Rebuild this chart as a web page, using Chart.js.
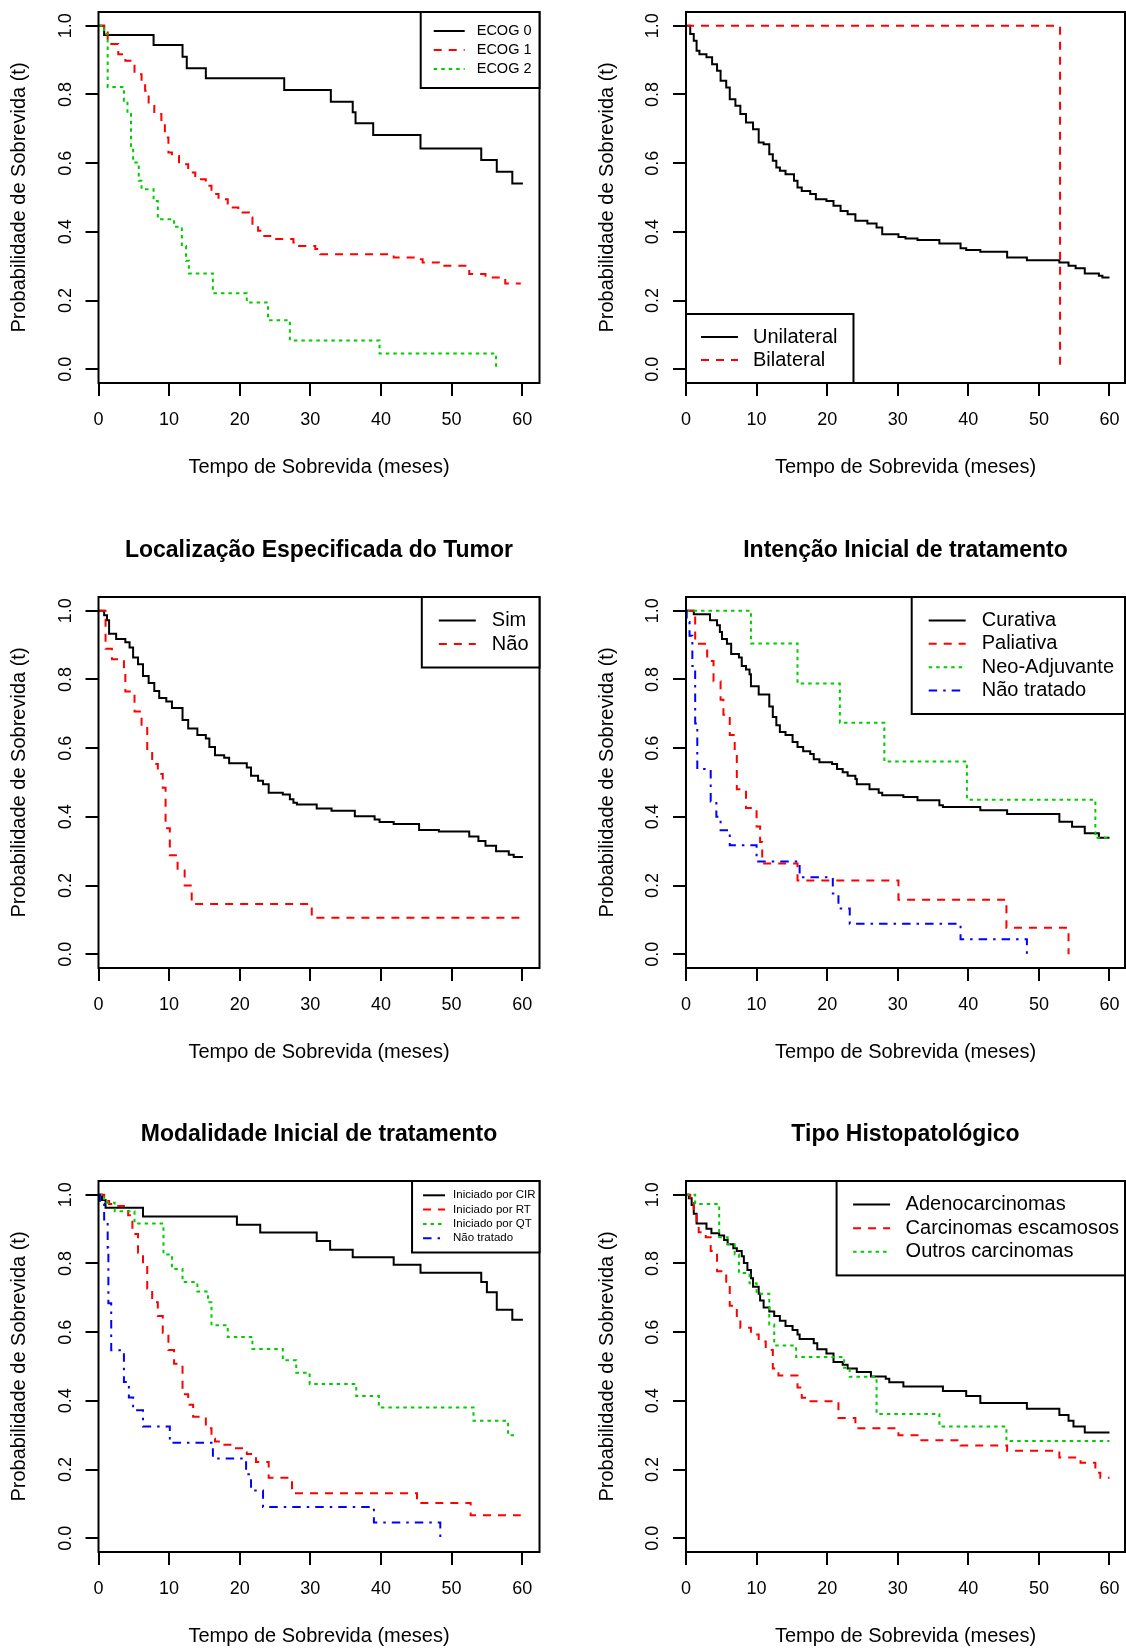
<!DOCTYPE html>
<html lang="pt">
<head>
<meta charset="utf-8">
<title>Curvas de sobrevida</title>
<script src="https://cdn.jsdelivr.net/npm/chart.js@4.4.1/dist/chart.umd.min.js"></script>
<style>
  html, body { margin: 0; padding: 0; background: #fff; }
  body { width: 1126px; height: 1651px; position: relative; overflow: hidden; }
  canvas { position: absolute; }
</style>
</head>
<body>
<canvas id="ecog" width="575" height="531" style="left:0px;top:-48px"></canvas>
<canvas id="lateral" width="575" height="531" style="left:563px;top:-48px"></canvas>
<canvas id="local" width="575" height="531" style="left:0px;top:537px"></canvas>
<canvas id="intencao" width="575" height="531" style="left:563px;top:537px"></canvas>
<canvas id="modalidade" width="575" height="531" style="left:0px;top:1121px"></canvas>
<canvas id="histo" width="575" height="531" style="left:563px;top:1121px"></canvas>
<script>
'use strict';
// axes
var xTicks = [0, 10, 20, 30, 40, 50, 60];
var xTickLabels = ['0', '10', '20', '30', '40', '50', '60'];
var yTicks = [0, 0.2, 0.4, 0.6, 0.8, 1];
var yTickLabels = ['0.0', '0.2', '0.4', '0.6', '0.8', '1.0'];
var xTitle = 'Tempo de Sobrevida (meses)';
var yTitle = 'Probabilidade de Sobrevida (t)';

// ECOG
var ecogLabels = ['ECOG 0', 'ECOG 1', 'ECOG 2'];
var ecog0Time = [0, 0.8, 7.8, 11.9, 12.5, 15.2, 26.3, 32.9, 36.0, 36.4, 38.9, 45.6, 54.2, 56.4, 58.6, 60.1];
var ecog0Surv = [1, 0.973, 0.944, 0.910, 0.876, 0.847, 0.813, 0.779, 0.748, 0.716, 0.682, 0.643, 0.609, 0.575, 0.541, 0.541];
var ecog1Time = [0, 0.8, 1.3, 2.8, 3.8, 5.1, 6.1, 6.6, 7.1, 7.9, 8.9, 9.4, 9.9, 10.4, 11.4, 12.7, 13.7, 15.2, 16.0, 17.0, 18.3, 19.8, 21.3, 21.8, 22.6, 23.3, 24.9, 27.6, 28.4, 30.7, 31.4, 41.8, 44.9, 45.9, 48.2, 52.5, 54.8, 57.6, 59.8];
var ecog1Surv = [1, 0.98, 0.947, 0.917, 0.898, 0.859, 0.840, 0.811, 0.772, 0.743, 0.723, 0.675, 0.631, 0.621, 0.597, 0.573, 0.553, 0.534, 0.510, 0.495, 0.471, 0.456, 0.442, 0.417, 0.403, 0.388, 0.379, 0.369, 0.359, 0.350, 0.335, 0.325, 0.320, 0.311, 0.301, 0.277, 0.267, 0.250, 0.250];
var ecog2Time = [0, 0.8, 1.3, 3.6, 4.1, 4.6, 4.9, 5.7, 6.1, 7.8, 8.4, 10.7, 11.8, 12.4, 12.8, 16.2, 21.0, 24.0, 27.1, 39.8, 56.3];
var ecog2Surv = [1, 0.976, 0.822, 0.782, 0.743, 0.650, 0.602, 0.549, 0.524, 0.490, 0.437, 0.415, 0.359, 0.316, 0.279, 0.221, 0.194, 0.143, 0.084, 0.046, 0];

// lateralidade
var lateralLabels = ['Unilateral', 'Bilateral'];
var uniTime = [0, 0.6, 1.1, 1.5, 1.9, 2.9, 3.7, 4.4, 4.9, 5.7, 6.2, 7.0, 7.7, 8.5, 9.5, 10.3, 11.0, 11.8, 12.3, 12.8, 13.3, 14.1, 15.3, 15.8, 16.4, 17.6, 18.4, 19.9, 20.9, 21.9, 22.9, 24.0, 25.7, 27.0, 27.8, 30.1, 31.1, 32.8, 35.9, 38.9, 39.7, 41.7, 45.5, 48.3, 52.9, 54.2, 55.2, 56.5, 58.5, 59.0, 60];
var uniSurv = [1, 0.976, 0.956, 0.927, 0.917, 0.908, 0.888, 0.869, 0.840, 0.820, 0.786, 0.767, 0.743, 0.718, 0.699, 0.660, 0.655, 0.626, 0.607, 0.587, 0.578, 0.568, 0.549, 0.529, 0.519, 0.510, 0.495, 0.490, 0.476, 0.461, 0.451, 0.432, 0.424, 0.413, 0.393, 0.385, 0.381, 0.376, 0.366, 0.352, 0.347, 0.342, 0.325, 0.317, 0.311, 0.301, 0.294, 0.279, 0.272, 0.267, 0.267];
var biTime = [0, 53.0];
var biSurv = [1, 0];

// localizacao
var localLabels = ['Sim', 'Não'];
var simTime = [0, 0.8, 1.2, 1.5, 2.5, 3.8, 4.4, 4.9, 5.6, 6.3, 7.1, 7.9, 8.6, 9.6, 10.4, 11.9, 12.7, 14.0, 15.2, 15.7, 16.5, 17.8, 18.5, 21.0, 21.6, 22.6, 23.3, 24.1, 26.1, 27.1, 27.6, 28.1, 30.9, 33.0, 36.3, 39.1, 39.8, 41.8, 45.4, 48.2, 52.5, 53.8, 54.8, 56.3, 58.1, 58.8, 60.1];
var simSurv = [1, 0.987, 0.972, 0.933, 0.918, 0.908, 0.893, 0.864, 0.844, 0.810, 0.790, 0.766, 0.746, 0.736, 0.717, 0.682, 0.657, 0.638, 0.628, 0.603, 0.579, 0.572, 0.556, 0.544, 0.520, 0.505, 0.495, 0.470, 0.465, 0.451, 0.441, 0.436, 0.424, 0.418, 0.402, 0.392, 0.385, 0.379, 0.362, 0.357, 0.343, 0.330, 0.316, 0.300, 0.290, 0.283, 0.283];
var naoTime = [0, 1.0, 1.9, 3.6, 3.8, 5.1, 6.1, 6.9, 7.6, 8.4, 9.1, 9.5, 10.1, 11.2, 12.2, 13.2, 30.2, 59.6];
var naoSurv = [1, 0.889, 0.859, 0.829, 0.765, 0.707, 0.663, 0.589, 0.554, 0.525, 0.485, 0.367, 0.288, 0.244, 0.200, 0.146, 0.106, 0.106];

// intencao
var intencaoLabels = ['Curativa', 'Paliativa', 'Neo-Adjuvante', 'Não tratado'];
var curTime = [0, 1.1, 3.4, 4.4, 4.8, 5.1, 5.8, 6.4, 7.5, 7.9, 8.5, 9.0, 9.2, 10.3, 11.8, 12.3, 12.8, 13.3, 14.1, 15.1, 15.8, 16.6, 17.6, 18.1, 18.9, 20.7, 21.4, 22.2, 22.9, 24.0, 24.2, 26.0, 27.3, 27.8, 30.8, 32.8, 35.9, 36.4, 41.7, 45.5, 52.9, 54.7, 56.5, 58.5, 60];
var curSurv = [1, 0.990, 0.972, 0.958, 0.938, 0.918, 0.904, 0.874, 0.864, 0.839, 0.829, 0.815, 0.780, 0.756, 0.721, 0.691, 0.667, 0.647, 0.638, 0.618, 0.603, 0.591, 0.583, 0.568, 0.559, 0.554, 0.539, 0.530, 0.520, 0.510, 0.495, 0.480, 0.470, 0.463, 0.458, 0.448, 0.434, 0.429, 0.419, 0.408, 0.386, 0.371, 0.352, 0.339, 0.339];
var paliTime = [0, 1.3, 3.0, 3.9, 4.9, 5.3, 6.2, 6.9, 7.2, 8.5, 10.0, 10.5, 10.8, 15.8, 30.1, 45.4, 54.2];
var paliSurv = [1, 0.904, 0.854, 0.795, 0.741, 0.697, 0.638, 0.583, 0.480, 0.426, 0.372, 0.327, 0.264, 0.215, 0.159, 0.077, 0];
var neoTime = [0, 9.2, 15.8, 21.8, 28.1, 39.8, 58.0, 60];
var neoSurv = [1, 0.905, 0.788, 0.674, 0.561, 0.450, 0.339, 0.339];
var naoTratInTime = [0, 0.1, 0.5, 0.9, 1.3, 1.6, 3.5, 4.3, 4.9, 6.2, 10.0, 16.1, 20.8, 21.6, 23.2, 38.9, 48.3];
var naoTratInSurv = [1, 0.967, 0.927, 0.839, 0.672, 0.539, 0.445, 0.400, 0.361, 0.317, 0.270, 0.224, 0.177, 0.133, 0.089, 0.044, 0];

// modalidade
var modalLabels = ['Iniciado por CIR', 'Iniciado por RT', 'Iniciado por QT', 'Não tratado'];
var cirTime = [0, 0.5, 1.0, 6.3, 19.6, 22.9, 30.9, 32.8, 36.0, 41.8, 45.6, 54.2, 55.0, 56.4, 58.6, 60.1];
var cirSurv = [1, 0.985, 0.962, 0.937, 0.913, 0.890, 0.865, 0.840, 0.818, 0.796, 0.773, 0.746, 0.716, 0.665, 0.636, 0.636];
var rtTime = [0, 0.8, 1.5, 2.8, 3.6, 4.2, 4.8, 5.6, 6.3, 6.9, 7.6, 8.4, 9.1, 9.9, 10.7, 11.9, 12.7, 13.4, 15.2, 16.0, 16.5, 17.5, 19.0, 21.0, 22.3, 24.1, 27.4, 45.1, 52.7, 59.8];
var rtSurv = [1, 0.982, 0.973, 0.967, 0.960, 0.940, 0.886, 0.831, 0.796, 0.727, 0.687, 0.647, 0.598, 0.548, 0.508, 0.419, 0.389, 0.354, 0.320, 0.290, 0.282, 0.272, 0.262, 0.245, 0.222, 0.176, 0.131, 0.103, 0.067, 0.067];
var qtTime = [0, 0.8, 2.3, 5.1, 9.2, 10.4, 11.9, 14.0, 15.5, 16.0, 18.3, 21.8, 26.1, 28.0, 29.9, 36.5, 39.7, 53.1, 58.0, 59.3];
var qtSurv = [1, 0.977, 0.952, 0.916, 0.826, 0.784, 0.746, 0.718, 0.687, 0.620, 0.586, 0.551, 0.518, 0.482, 0.449, 0.414, 0.381, 0.342, 0.300, 0.300];
var naoTratModTime = [0, 0.2, 0.8, 1.3, 1.4, 1.8, 3.6, 4.3, 4.9, 6.3, 10.1, 16.2, 20.9, 21.6, 23.3, 39.0, 48.4];
var naoTratModSurv = [1, 0.973, 0.928, 0.846, 0.684, 0.547, 0.455, 0.410, 0.373, 0.325, 0.278, 0.232, 0.186, 0.139, 0.091, 0.046, 0];

// histopatologico
var histoLabels = ['Adenocarcinomas', 'Carcinomas escamosos', 'Outros carcinomas'];
var adenoTime = [0, 0.4, 0.8, 1.1, 1.5, 2.9, 3.6, 4.7, 5.4, 5.9, 6.7, 7.2, 7.9, 8.2, 8.7, 9.2, 9.5, 10.3, 10.5, 11.0, 11.8, 12.5, 13.3, 14.1, 15.1, 15.8, 16.1, 18.1, 18.6, 19.9, 20.9, 22.2, 22.9, 24.2, 26.2, 28.3, 28.8, 30.8, 36.4, 39.7, 41.7, 48.3, 52.9, 54.2, 54.9, 56.5, 60];
var adenoSurv = [1, 0.990, 0.970, 0.945, 0.916, 0.901, 0.888, 0.881, 0.868, 0.856, 0.844, 0.836, 0.821, 0.801, 0.781, 0.757, 0.732, 0.712, 0.692, 0.672, 0.660, 0.647, 0.633, 0.618, 0.606, 0.593, 0.580, 0.568, 0.550, 0.538, 0.513, 0.505, 0.494, 0.484, 0.471, 0.464, 0.454, 0.442, 0.429, 0.414, 0.394, 0.377, 0.359, 0.342, 0.325, 0.308, 0.308];
var escTime = [0, 0.6, 1.1, 1.5, 1.8, 2.8, 3.5, 4.4, 5.7, 6.2, 7.2, 7.7, 9.2, 10.3, 11.3, 12.3, 13.1, 15.8, 16.4, 17.4, 21.6, 24.0, 30.1, 32.8, 38.9, 45.5, 52.9, 55.9, 58.0, 58.7, 60];
var escSurv = [1, 0.980, 0.945, 0.916, 0.891, 0.876, 0.836, 0.777, 0.747, 0.677, 0.638, 0.613, 0.593, 0.573, 0.548, 0.494, 0.474, 0.439, 0.409, 0.399, 0.350, 0.320, 0.300, 0.285, 0.270, 0.255, 0.235, 0.220, 0.191, 0.176, 0.176];
var outTime = [0, 1.3, 4.7, 5.9, 6.9, 7.5, 9.0, 10.0, 11.8, 12.5, 15.6, 22.4, 23.2, 27.0, 35.9, 45.4, 60];
var outSurv = [1, 0.973, 0.876, 0.856, 0.826, 0.772, 0.742, 0.712, 0.622, 0.561, 0.528, 0.496, 0.470, 0.362, 0.325, 0.283, 0.283];

// R style: col = 1:n, lty = 1:n
var lineColors = ['#000000', '#ff0000', '#00cd00', '#0000ff'];
var lineDashes = [[], [8, 7], [3.5, 4], [8.5, 6, 2.5, 6]];

Chart.defaults.font.family = '"Liberation Sans", Arial, sans-serif';
Chart.defaults.color = '#000';

// box round the plot region
var frame = {
  id: 'frame',
  afterDatasetsDraw: function (chart) {
    var a = chart.chartArea, ctx = chart.ctx;
    ctx.save();
    ctx.strokeStyle = '#000';
    ctx.lineWidth = 2;
    ctx.setLineDash([]);
    ctx.strokeRect(a.left, a.top, a.right - a.left, a.bottom - a.top);
    ctx.restore();
  }
};

// legend with a box, inside the plot like legend() in R
var boxLegend = {
  id: 'boxLegend',
  afterDraw: function (chart, args, o) {
    var a = chart.chartArea, ctx = chart.ctx;
    var ds = chart.data.datasets;
    ctx.save();
    ctx.font = o.size + 'px "Liberation Sans", Arial, sans-serif';
    var textW = Math.max.apply(null, ds.map(function (d) { return ctx.measureText(d.label).width; }));
    var w = o.padL + o.sample + o.gap + textW + o.padR;
    var h = o.rowH * (ds.length + 1);
    var x0 = o.corner === 'topright' ? a.right - w : a.left;
    var y0 = o.corner === 'topright' ? a.top : a.bottom - h;
    ctx.fillStyle = '#fff';
    ctx.fillRect(x0, y0, w, h);
    ctx.lineWidth = 2;
    ctx.strokeStyle = '#000';
    ctx.setLineDash([]);
    ctx.strokeRect(x0, y0, w, h);
    ds.forEach(function (d, i) {
      var y = y0 + o.rowH * (i + 1);
      ctx.strokeStyle = d.borderColor;
      ctx.setLineDash(d.borderDash);
      ctx.beginPath();
      ctx.moveTo(x0 + o.padL, y);
      ctx.lineTo(x0 + o.padL + o.sample, y);
      ctx.stroke();
      ctx.fillStyle = '#000';
      ctx.textAlign = 'left';
      ctx.textBaseline = 'middle';
      ctx.fillText(d.label, x0 + o.padL + o.sample + o.gap, y);
    });
    ctx.restore();
  }
};

function survChart(id, col, title, labels, series, legend) {
  var datasets = series.map(function (s, i) {
    return {
      label: labels[i],
      data: s[0].map(function (t, k) { return { x: t, y: s[1][k] }; }),
      borderColor: lineColors[i],
      borderDash: lineDashes[i],
      borderWidth: 2,
      pointRadius: 0,
      stepped: true,
      fill: false,
      order: -i
    };
  });
  var tickGrid = { drawOnChartArea: false, drawTicks: true, tickLength: 13, color: '#000', lineWidth: 2 };
  return new Chart(document.getElementById(id), {
    type: 'line',
    data: { datasets: datasets },
    options: {
      responsive: false,
      animation: false,
      devicePixelRatio: 1,
      events: [],
      layout: { padding: { left: col ? 24.5 : 0, right: col ? 13 : 35.5, top: title ? 0 : 60, bottom: 0 } },
      plugins: {
        legend: { display: false },
        tooltip: { enabled: false },
        title: {
          display: !!title, text: title, fullSize: false,
          font: { size: 23, weight: 'bold' }, color: '#000',
          padding: { top: 0, bottom: 32.4 }
        },
        boxLegend: legend
      },
      scales: {
        x: {
          type: 'linear', min: 0, max: col ? 62.2 : 62.45,
          afterBuildTicks: function (s) { s.ticks = xTicks.map(function (v) { return { value: v }; }); },
          afterFit: function (s) { s.height = 100; },
          grid: tickGrid,
          border: { display: false },
          ticks: {
            autoSkip: false, maxRotation: 0, padding: 13.5, font: { size: 18 }, color: '#000',
            callback: function (v, i) { return xTickLabels[i]; }
          },
          title: { display: true, text: xTitle, font: { size: 20 }, color: '#000', padding: { top: 0, bottom: 3.5 } }
        },
        y: {
          type: 'linear', min: -0.04, max: 1.04,
          afterBuildTicks: function (s) { s.ticks = yTicks.map(function (v) { return { value: v }; }); },
          afterFit: function (s) { s.width = 98.5; },
          grid: tickGrid,
          border: { display: false },
          ticks: {
            autoSkip: false, minRotation: 90, maxRotation: 90, crossAlign: 'center', padding: 7,
            font: { size: 18 }, color: '#000',
            callback: function (v, i) { return yTickLabels[i]; }
          },
          title: { display: true, text: yTitle, font: { size: 20 }, color: '#000', padding: { top: 7.5, bottom: 0 } }
        }
      }
    },
    plugins: [frame, boxLegend]
  });
}

survChart('ecog', 0, '', ecogLabels,
  [[ecog0Time, ecog0Surv], [ecog1Time, ecog1Surv], [ecog2Time, ecog2Surv]],
  { corner: 'topright', size: 14.5, rowH: 19, padL: 13, sample: 31, gap: 12, padR: 8 });

survChart('lateral', 1, '', lateralLabels,
  [[uniTime, uniSurv], [biTime, biSurv]],
  { corner: 'bottomleft', size: 20, rowH: 23, padL: 15, sample: 37, gap: 15, padR: 16 });

survChart('local', 0, 'Localização Especificada do Tumor', localLabels,
  [[simTime, simSurv], [naoTime, naoSurv]],
  { corner: 'topright', size: 20, rowH: 23.5, padL: 17, sample: 37, gap: 16, padR: 11 });

survChart('intencao', 1, 'Intenção Inicial de tratamento', intencaoLabels,
  [[curTime, curSurv], [paliTime, paliSurv], [neoTime, neoSurv], [naoTratInTime, naoTratInSurv]],
  { corner: 'topright', size: 20, rowH: 23.4, padL: 17, sample: 37, gap: 16, padR: 11 });

survChart('modalidade', 0, 'Modalidade Inicial de tratamento', modalLabels,
  [[cirTime, cirSurv], [rtTime, rtSurv], [qtTime, qtSurv], [naoTratModTime, naoTratModSurv]],
  { corner: 'topright', size: 11.5, rowH: 14.3, padL: 11, sample: 22, gap: 8, padR: 4 });

survChart('histo', 1, 'Tipo Histopatológico', histoLabels,
  [[adenoTime, adenoSurv], [escTime, escSurv], [outTime, outSurv]],
  { corner: 'topright', size: 20, rowH: 23.6, padL: 16.5, sample: 37, gap: 15.5, padR: 6 });
</script>
</body>
</html>
